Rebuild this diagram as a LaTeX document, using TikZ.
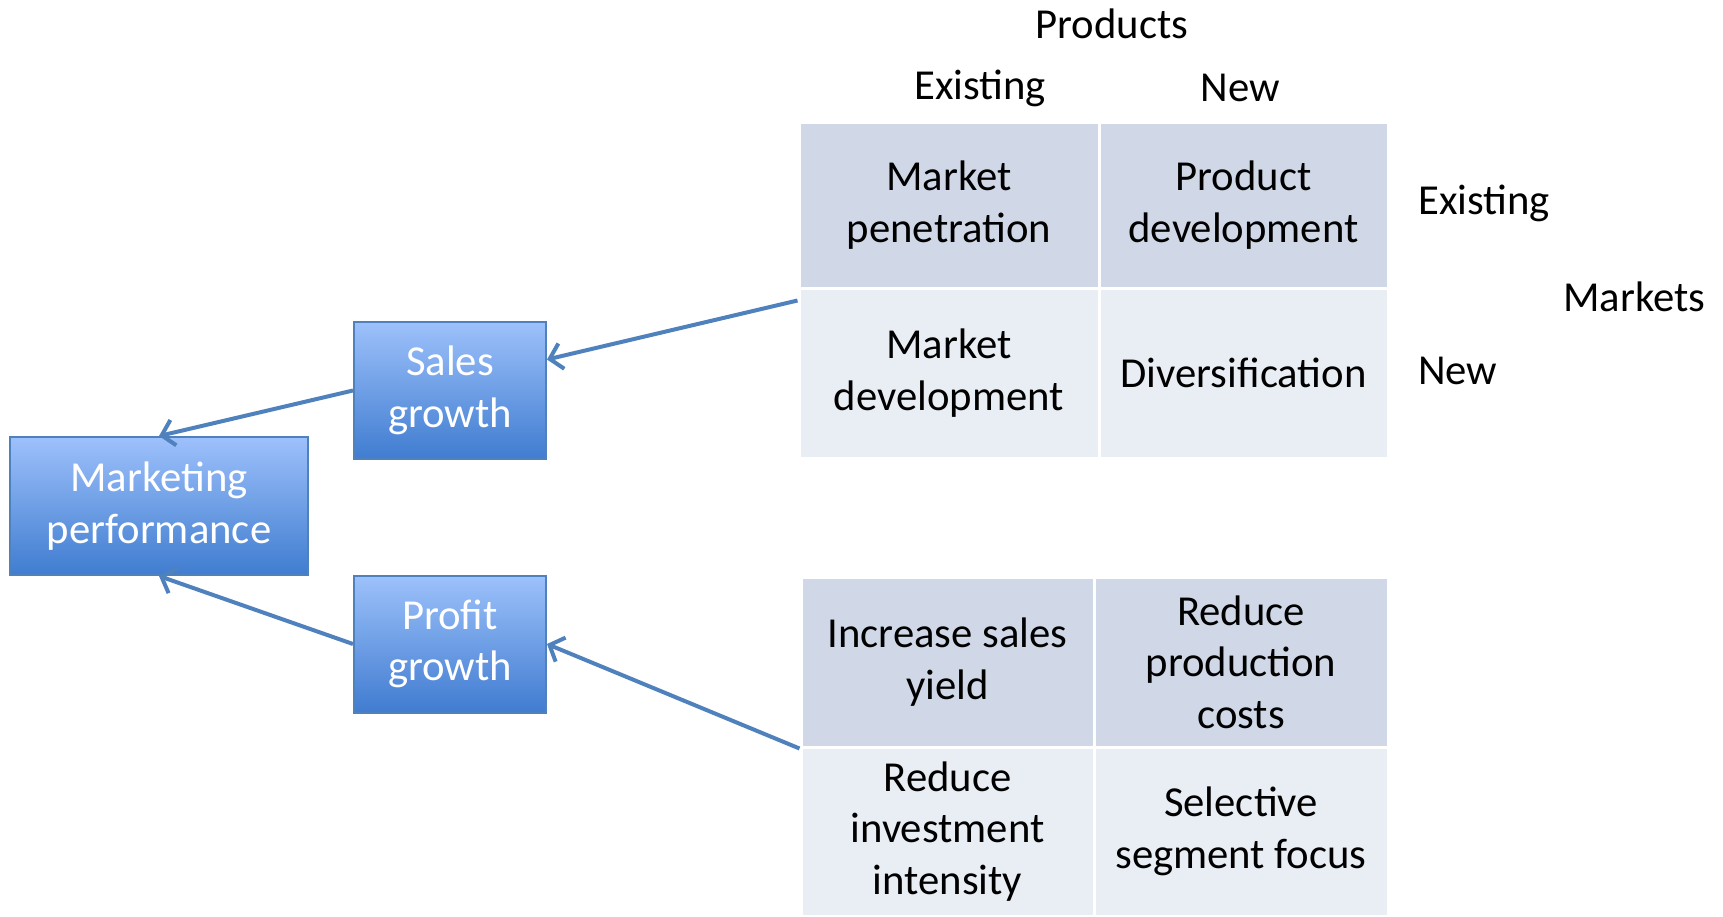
\documentclass[tikz,border=0pt]{standalone}
\usepackage{fontspec}
\setmainfont{Carlito}
\usetikzlibrary{arrows.meta}
\definecolor{linkblue}{RGB}{79,129,189}
\definecolor{boxtop}{RGB}{157,193,251}
\definecolor{boxbot}{RGB}{64,124,208}
\definecolor{celldark}{RGB}{208,216,232}
\definecolor{celllight}{RGB}{233,237,244}
\tikzset{
    txt/.style = {font = \fontsize{42.7}{51.6}\selectfont, inner sep = 0pt},
    bluebox/.style = {txt, draw = linkblue, line width = 2pt, top color = boxtop, bottom color = boxbot, text = white, align = center},
    cell/.style = {txt, draw = white, line width = 3pt, align = center},
    link/.style = {draw = linkblue, line width = 4pt, -{Straight Barb[length = 12pt, width = 26pt]}}
}
\begin{document}
\begin{tikzpicture}[x = 1pt, y = -1pt]
        \useasboundingbox (0, 0) rectangle (1723, 916);
        \node[bluebox, minimum width = 298pt, minimum height = 138pt] (perf) at (159, 506) {Marketing\\performance};
        \node[bluebox, minimum width = 192pt, minimum height = 137pt] (sales) at (450, 390.5) {Sales\\growth};
        \node[bluebox, minimum width = 192pt, minimum height = 137pt] (profit) at (450, 644) {Profit\\growth};
        \foreach \n/\x/\y/\w/\h/\c/\t in {mpen/949/205/300/166/celldark/{Market\\penetration}, pdev/1243.5/205/289/166/celldark/{Product\\development}, mdev/949/373/300/170/celllight/{Market\\development}, div/1243.5/373/289/170/celllight/{Diversification}, yield/947.5/662/293/170/celldark/{Increase sales\\yield}, cost/1241/662/294/170/celldark/{Reduce\\production\\costs}, invest/947.5/831.5/293/169/celllight/{Reduce\\investment\\intensity}, focus/1241/831.5/294/169/celllight/{Selective\\segment focus}}{
            \node[cell, fill = \c, minimum width = \w pt, minimum height = \h pt] (\n) at (\x, \y) {\t};
        }
        \node[txt] (products) at (1112, 24) {Products};
        \node[txt] (pold) at (980, 88) {Existing};
        \node[txt] (pnew) at (1240, 88) {New};
        \node[txt, anchor = west] (mold) at (1418, 203) {Existing};
        \node[txt, anchor = west] (mnew) at (1418, 371) {New};
        \node[txt, anchor = west] (markets) at (1563, 297) {Markets};
        \draw[link] ([yshift = -14pt] mdev.north west) -- ([yshift = 31pt] sales.east);
        \draw[link] (sales.west) -- (perf.north);
        \draw[link] (yield.south west) -- (profit.east);
        \draw[link] (profit.west) -- (perf.south);
    \end{tikzpicture}
\end{document}
